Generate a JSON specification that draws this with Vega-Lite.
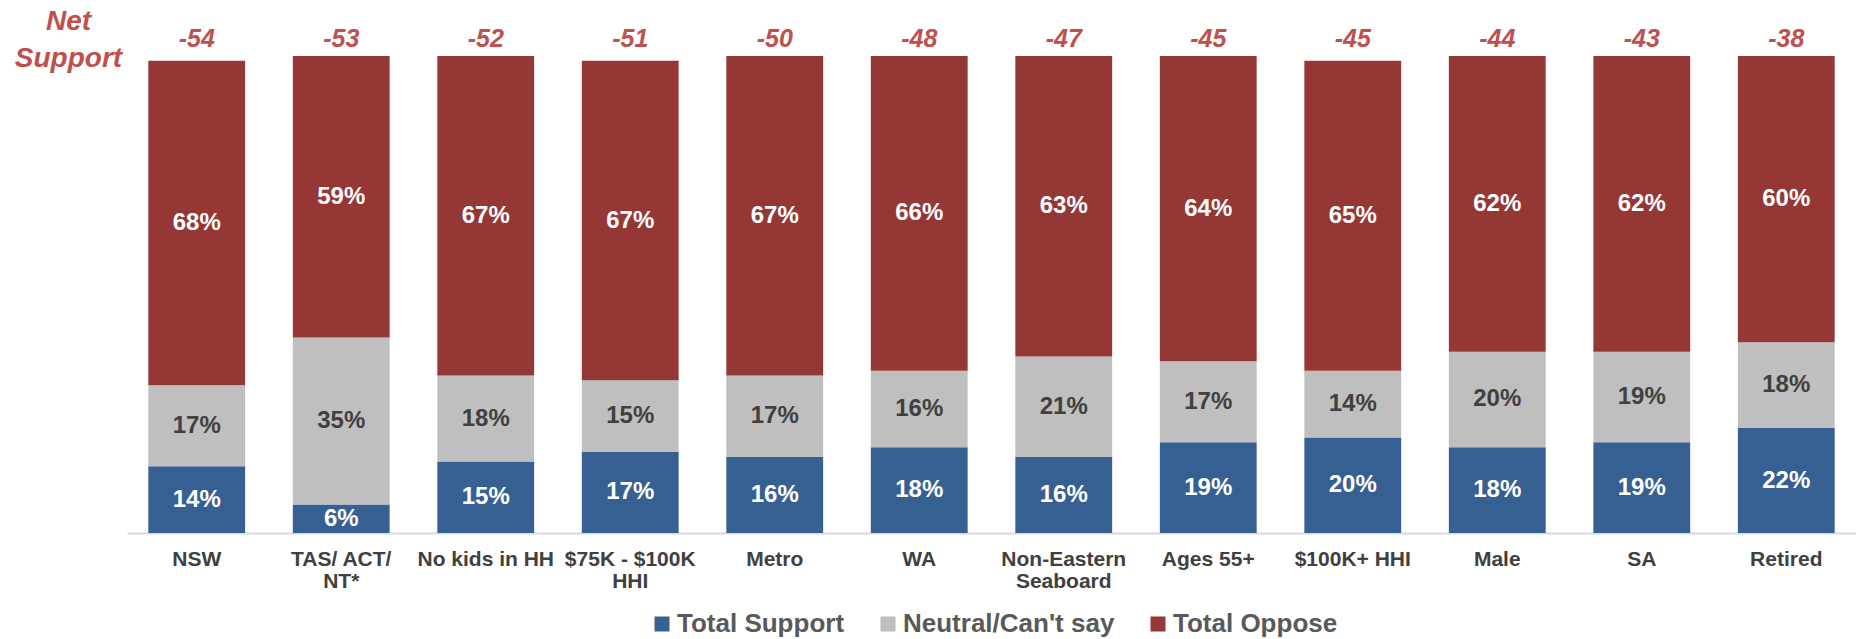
{
  "$schema": "https://vega.github.io/schema/vega-lite/v6.json",
  "autosize": {"type": "none"},
  "padding": {"left": 127, "top": 56, "right": 0, "bottom": 106},
  "width": 1729,
  "height": 477,
  "config": {
    "view": {"stroke": null},
    "font": "Liberation Sans"
  },
  "datasets": {
    "seg": [
      {"cat": "NSW", "seg": "Total Support", "val": 0.14},
      {"cat": "NSW", "seg": "Neutral/Can't say", "val": 0.17},
      {"cat": "NSW", "seg": "Total Oppose", "val": 0.68},
      {"cat": "TAS/ ACT/ NT*", "seg": "Total Support", "val": 0.06},
      {"cat": "TAS/ ACT/ NT*", "seg": "Neutral/Can't say", "val": 0.35},
      {"cat": "TAS/ ACT/ NT*", "seg": "Total Oppose", "val": 0.59},
      {"cat": "No kids in HH", "seg": "Total Support", "val": 0.15},
      {"cat": "No kids in HH", "seg": "Neutral/Can't say", "val": 0.18},
      {"cat": "No kids in HH", "seg": "Total Oppose", "val": 0.67},
      {"cat": "$75K - $100K HHI", "seg": "Total Support", "val": 0.17},
      {"cat": "$75K - $100K HHI", "seg": "Neutral/Can't say", "val": 0.15},
      {"cat": "$75K - $100K HHI", "seg": "Total Oppose", "val": 0.67},
      {"cat": "Metro", "seg": "Total Support", "val": 0.16},
      {"cat": "Metro", "seg": "Neutral/Can't say", "val": 0.17},
      {"cat": "Metro", "seg": "Total Oppose", "val": 0.67},
      {"cat": "WA", "seg": "Total Support", "val": 0.18},
      {"cat": "WA", "seg": "Neutral/Can't say", "val": 0.16},
      {"cat": "WA", "seg": "Total Oppose", "val": 0.66},
      {"cat": "Non-Eastern Seaboard", "seg": "Total Support", "val": 0.16},
      {"cat": "Non-Eastern Seaboard", "seg": "Neutral/Can't say", "val": 0.21},
      {"cat": "Non-Eastern Seaboard", "seg": "Total Oppose", "val": 0.63},
      {"cat": "Ages 55+", "seg": "Total Support", "val": 0.19},
      {"cat": "Ages 55+", "seg": "Neutral/Can't say", "val": 0.17},
      {"cat": "Ages 55+", "seg": "Total Oppose", "val": 0.64},
      {"cat": "$100K+ HHI", "seg": "Total Support", "val": 0.20},
      {"cat": "$100K+ HHI", "seg": "Neutral/Can't say", "val": 0.14},
      {"cat": "$100K+ HHI", "seg": "Total Oppose", "val": 0.65},
      {"cat": "Male", "seg": "Total Support", "val": 0.18},
      {"cat": "Male", "seg": "Neutral/Can't say", "val": 0.20},
      {"cat": "Male", "seg": "Total Oppose", "val": 0.62},
      {"cat": "SA", "seg": "Total Support", "val": 0.19},
      {"cat": "SA", "seg": "Neutral/Can't say", "val": 0.19},
      {"cat": "SA", "seg": "Total Oppose", "val": 0.62},
      {"cat": "Retired", "seg": "Total Support", "val": 0.22},
      {"cat": "Retired", "seg": "Neutral/Can't say", "val": 0.18},
      {"cat": "Retired", "seg": "Total Oppose", "val": 0.60}
    ],
    "net": [
      {"cat": "NSW", "net": -54},
      {"cat": "TAS/ ACT/ NT*", "net": -53},
      {"cat": "No kids in HH", "net": -52},
      {"cat": "$75K - $100K HHI", "net": -51},
      {"cat": "Metro", "net": -50},
      {"cat": "WA", "net": -48},
      {"cat": "Non-Eastern Seaboard", "net": -47},
      {"cat": "Ages 55+", "net": -45},
      {"cat": "$100K+ HHI", "net": -45},
      {"cat": "Male", "net": -44},
      {"cat": "SA", "net": -43},
      {"cat": "Retired", "net": -38}
    ]
  },
  "layer": [
    {
      "data": {"name": "seg"},
      "transform": [
        {"calculate": "indexof(['Total Support', 'Neutral/Can\\'t say', 'Total Oppose'], datum.seg)", "as": "o"},
        {"stack": "val", "groupby": ["cat"], "sort": [{"field": "o", "order": "ascending"}], "as": ["y0", "y1"]},
        {"calculate": "(datum.y0 + datum.y1) / 2", "as": "mid"}
      ],
      "layer": [
        {
          "mark": {"type": "bar"},
          "encoding": {
            "x": {
              "field": "cat", "type": "nominal", "sort": null,
              "scale": {"paddingInner": 0.33, "paddingOuter": 0.1475},
              "axis": {
                "title": null, "labelAngle": 0, "ticks": false, "tickSize": 0,
                "domainColor": "#D9D9D9", "domainWidth": 2,
                "labelFontSize": 21, "labelFontWeight": "bold", "labelColor": "#404040",
                "labelPadding": 15, "labelBaseline": "top", "labelLineHeight": 22,
                "labelOverlap": false, "labelLimit": 0,
                "labelExpr": "datum.label == 'TAS/ ACT/ NT*' ? ['TAS/ ACT/', 'NT*'] : datum.label == '$75K - $100K HHI' ? ['$75K - $100K', 'HHI'] : datum.label == 'Non-Eastern Seaboard' ? ['Non-Eastern', 'Seaboard'] : datum.label"
              }
            },
            "y": {
              "field": "y0", "type": "quantitative",
              "scale": {"domain": [0, 1], "nice": false, "zero": true},
              "axis": {
                "title": ["Net", "Support"], "labels": false, "ticks": false, "domain": false, "grid": false,
                "titleAngle": 0, "titleAlign": "center", "titleBaseline": "top",
                "titleX": -59, "titleY": -49,
                "titleFontSize": 28, "titleFontWeight": "bold", "titleFontStyle": "italic",
                "titleColor": "#C0504D", "titleLineHeight": 37
              }
            },
            "y2": {"field": "y1"},
            "color": {
              "field": "seg", "type": "nominal",
              "scale": {"domain": ["Total Support", "Neutral/Can't say", "Total Oppose"], "range": ["#376092", "#BFBFBF", "#953735"]},
              "legend": {
                "title": null, "orient": "none", "legendX": 522, "legendY": 555, "direction": "horizontal",
                "symbolType": "square", "symbolSize": 225, "symbolStrokeWidth": 0,
                "labelFontSize": 26, "labelFontWeight": "bold", "labelColor": "#595959",
                "labelOffset": 2, "columnPadding": 30, "labelLimit": 0
              }
            }
          }
        },
        {
          "mark": {"type": "text", "fontSize": 24, "fontWeight": "bold", "baseline": "middle"},
          "encoding": {
            "x": {"field": "cat", "type": "nominal", "sort": null},
            "y": {"field": "mid", "type": "quantitative"},
            "text": {"field": "val", "type": "quantitative", "format": ".0%"},
            "color": {"condition": {"test": "datum.o == 1", "value": "#404040"}, "value": "#FFFFFF"}
          }
        }
      ]
    },
    {
      "data": {"name": "net"},
      "transform": [{"calculate": "'' + datum.net", "as": "netLabel"}],
      "mark": {"type": "text", "fontSize": 25, "fontWeight": "bold", "fontStyle": "italic", "color": "#C0504D", "baseline": "alphabetic", "dy": -9},
      "encoding": {
        "x": {"field": "cat", "type": "nominal", "sort": null},
        "y": {"datum": 1},
        "text": {"field": "netLabel", "type": "nominal"}
      }
    }
  ]
}
